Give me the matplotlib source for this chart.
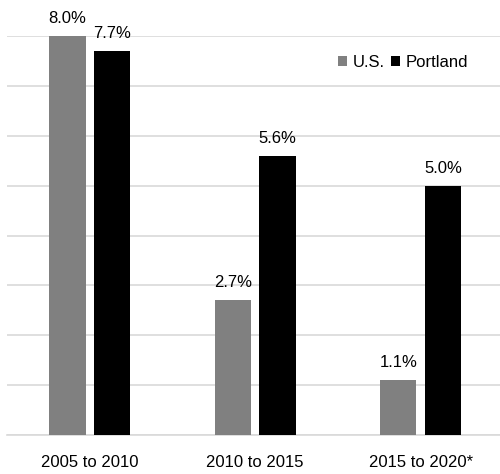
import matplotlib
matplotlib.use('Agg')
import matplotlib.pyplot as plt
import numpy as np

plt.rcParams['font.family'] = ['Liberation Sans', 'DejaVu Sans']

# data
periods = ['2005 to 2010', '2010 to 2015', '2015 to 2020*']
us = [8.0, 2.7, 1.1]
portland = [7.7, 5.6, 5.0]
series_names = ['U.S.', 'Portland']

fig = plt.figure(figsize=(5, 4.74), dpi=100)
ax = fig.add_axes([0.014, 0.082, 0.986, 0.842])

x = np.arange(len(periods))
w = 0.22
off = 0.135
b1 = ax.bar(x - off, us, width=w, color='#808080', label=series_names[0], zorder=3)
b2 = ax.bar(x + off, portland, width=w, color='#000000', label=series_names[1], zorder=3)

for bars, vals in [(b1, us), (b2, portland)]:
    for bar, v in zip(bars, vals):
        ax.text(bar.get_x() + bar.get_width() / 2, v + 0.2, f'{v:.1f}%',
                ha='center', va='bottom', fontsize=12, color='#000000', clip_on=False)

ax.set_xlim(-0.5, 2.48)
ax.set_ylim(0, 8)
ax.set_yticks(np.arange(0, 9, 1))
ax.yaxis.grid(True, color='#d9d9d9', linewidth=1.2, zorder=0)
ax.set_yticklabels([])
ax.tick_params(axis='y', length=0)
ax.tick_params(axis='x', length=0, pad=14, labelsize=12)
ax.set_xticks(x)
ax.set_xticklabels(periods)
for s in ['top', 'right', 'left']:
    ax.spines[s].set_visible(False)
ax.spines['bottom'].set_color('#d9d9d9')
ax.spines['bottom'].set_linewidth(1.2)

ax.legend(loc='upper right', bbox_to_anchor=(0.965, 0.99), ncol=2, frameon=False,
          fontsize=12, handlelength=0.55, handleheight=0.55, handletextpad=0.3,
          columnspacing=0.4)

plt.savefig('out.png', dpi=100)
